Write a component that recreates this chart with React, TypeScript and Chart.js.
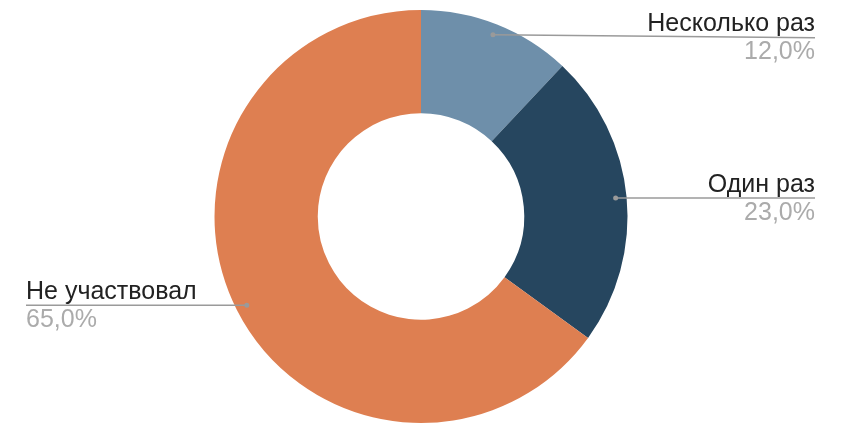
import React, { useEffect, useRef } from "react";
import { Chart, registerables } from "chart.js";

Chart.register(...registerables);

const categories = ["Несколько раз", "Один раз", "Не участвовал"];
const values = [12, 23, 65];
const percentLabels = ["12,0%", "23,0%", "65,0%"];
const colors = ["#6E8FAA", "#26465F", "#DE7F51"];

const labelPlugin = {
  id: "leaderLabels",
  afterDraw(chart: any) {
    const ctx = chart.ctx;
    const meta = chart.getDatasetMeta(0);
    ctx.save();
    meta.data.forEach((arc: any, i: number) => {
      const { x, y, startAngle, endAngle, outerRadius } = arc.getProps(
        ["x", "y", "startAngle", "endAngle", "outerRadius"],
        true
      );
      const mid = (startAngle + endAngle) / 2;
      const r = outerRadius - 11;
      const dx = x + Math.cos(mid) * r;
      const dy = y + Math.sin(mid) * r;
      const right = Math.cos(mid) >= 0;
      const lineY = i === 0 ? dy + 3 : dy;
      const endX = right ? 815 : 26;
      ctx.strokeStyle = "#9a9a9a";
      ctx.lineWidth = 1.5;
      ctx.beginPath();
      ctx.moveTo(dx, dy);
      ctx.lineTo(endX, lineY);
      ctx.stroke();
      ctx.fillStyle = "#9a9a9a";
      ctx.beginPath();
      ctx.arc(dx, dy, 2.5, 0, Math.PI * 2);
      ctx.fill();
      ctx.textAlign = right ? "right" : "left";
      ctx.textBaseline = "alphabetic";
      ctx.font = "25px 'Liberation Sans', Arial, sans-serif";
      ctx.fillStyle = "#222222";
      ctx.fillText(categories[i], endX, lineY - 6.5);
      ctx.font = "25px 'Liberation Sans', Arial, sans-serif";
      ctx.fillStyle = "#ababab";
      ctx.fillText(percentLabels[i], endX, lineY + 21.5);
    });
    ctx.restore();
  },
};

export default function App() {
  const ref = useRef<HTMLCanvasElement>(null);
  useEffect(() => {
    if (!ref.current) return;
    const chart = new Chart(ref.current, {
      type: "doughnut",
      data: {
        labels: categories,
        datasets: [
          {
            data: values,
            backgroundColor: colors,
            borderWidth: 0,
          },
        ],
      },
      options: {
        responsive: false,
        animation: false,
        cutout: "50%",
        layout: { padding: { top: 10, bottom: 19, left: 0, right: 22 } },
        plugins: {
          legend: { display: false },
          tooltip: { enabled: false },
        },
      },
      plugins: [labelPlugin],
    });
    return () => chart.destroy();
  }, []);
  return (
    <div style={{ position: "fixed", left: 0, top: 0, width: 864, height: 442, background: "#fff" }}>
      <canvas ref={ref} width={864} height={442} style={{ display: "block" }} />
    </div>
  );
}
